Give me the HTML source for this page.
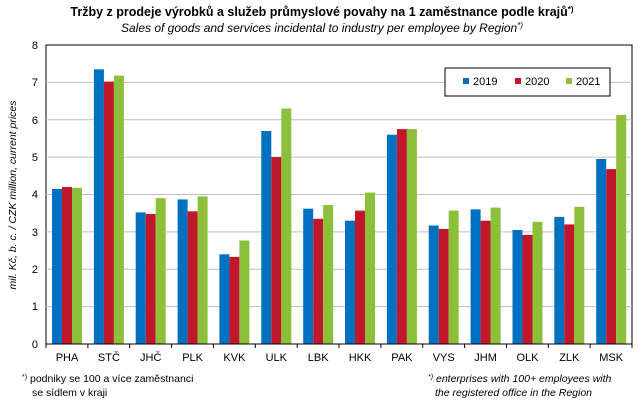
<!DOCTYPE html>
<html><head><meta charset="utf-8"><style>
body{margin:0;background:#fff;}
svg text{font-family:"Liberation Sans",sans-serif;fill:#000;}
</style></head><body>
<svg width="643" height="406" xmlns="http://www.w3.org/2000/svg">
<text x="322" y="16" font-size="12.5" font-weight="bold" text-anchor="middle">Tržby z prodeje výrobků  a služeb průmyslové  povahy na 1 zaměstnance podle krajů<tspan font-size="8" dy="-4">*)</tspan></text>
<text x="322" y="32" font-size="12" font-style="italic" text-anchor="middle">Sales of goods and services incidental to industry per employee  by Region<tspan font-size="8" dy="-4">*)</tspan></text>
<rect x="46" y="45" width="586" height="299" fill="#fff" stroke="#000" stroke-width="1"/>
<g stroke="#bfbfbf" stroke-width="1">
<line x1="46" x2="632" y1="82.4" y2="82.4"/><line x1="46" x2="632" y1="119.8" y2="119.8"/>
<line x1="46" x2="632" y1="157.1" y2="157.1"/><line x1="46" x2="632" y1="194.5" y2="194.5"/>
<line x1="46" x2="632" y1="231.9" y2="231.9"/><line x1="46" x2="632" y1="269.3" y2="269.3"/>
<line x1="46" x2="632" y1="306.6" y2="306.6"/>
</g>
<g font-size="11" text-anchor="end">
<text x="38" y="49">8</text><text x="38" y="86">7</text><text x="38" y="124">6</text><text x="38" y="161">5</text>
<text x="38" y="198">4</text><text x="38" y="236">3</text><text x="38" y="273">2</text><text x="38" y="310">1</text><text x="38" y="348">0</text>
</g>
<text transform="translate(16,195) rotate(-90)" font-size="10.5" font-style="italic" text-anchor="middle">mil. Kč, b. c. / CZK million, current prices</text>
<g>
<g fill="#0070C0">
<rect x="52" y="188.9" width="10" height="155.1"/><rect x="93.9" y="69.3" width="10" height="274.7"/>
<rect x="135.7" y="212.4" width="10" height="131.6"/><rect x="177.6" y="199.4" width="10" height="144.6"/>
<rect x="219.4" y="254.3" width="10" height="89.7"/><rect x="261.3" y="131" width="10" height="213"/>
<rect x="303.2" y="208.7" width="10" height="135.3"/><rect x="345" y="220.7" width="10" height="123.3"/>
<rect x="386.9" y="134.7" width="10" height="209.3"/><rect x="428.7" y="225.5" width="10" height="118.5"/>
<rect x="470.6" y="209.4" width="10" height="134.6"/><rect x="512.5" y="230" width="10" height="114"/>
<rect x="554.3" y="216.9" width="10" height="127.1"/><rect x="596.2" y="159" width="10" height="185"/>
</g>
<g fill="#C0182A">
<rect x="62" y="187" width="10" height="157"/><rect x="103.9" y="81.6" width="10" height="262.4"/>
<rect x="145.7" y="213.9" width="10" height="130.1"/><rect x="187.6" y="211.3" width="10" height="132.7"/>
<rect x="229.4" y="256.9" width="10" height="87.1"/><rect x="271.3" y="157.1" width="10" height="186.9"/>
<rect x="313.2" y="218.8" width="10" height="125.2"/><rect x="355" y="210.6" width="10" height="133.4"/>
<rect x="396.9" y="129.1" width="10" height="214.9"/><rect x="438.7" y="228.9" width="10" height="115.1"/>
<rect x="480.6" y="220.7" width="10" height="123.3"/><rect x="522.5" y="234.9" width="10" height="109.1"/>
<rect x="564.3" y="224.4" width="10" height="119.6"/><rect x="606.2" y="169.1" width="10" height="174.9"/>
</g>
<g fill="#8DC03A">
<rect x="72" y="187.8" width="10" height="156.2"/><rect x="113.9" y="75.6" width="10" height="268.4"/>
<rect x="155.7" y="198.2" width="10" height="145.8"/><rect x="197.6" y="196.4" width="10" height="147.6"/>
<rect x="239.4" y="240.5" width="10" height="103.5"/><rect x="281.3" y="108.5" width="10" height="235.5"/>
<rect x="323.2" y="205" width="10" height="139"/><rect x="365" y="192.6" width="10" height="151.4"/>
<rect x="406.9" y="129.1" width="10" height="214.9"/><rect x="448.7" y="210.6" width="10" height="133.4"/>
<rect x="490.6" y="207.6" width="10" height="136.4"/><rect x="532.5" y="221.8" width="10" height="122.2"/>
<rect x="574.3" y="206.8" width="10" height="137.2"/><rect x="616.2" y="114.9" width="10" height="229.1"/>
</g>
</g>
<line x1="46" x2="632" y1="344" y2="344" stroke="#000"/>
<g stroke="#000">
<line x1="46" x2="46" y1="344" y2="348"/><line x1="87.9" x2="87.9" y1="344" y2="348"/><line x1="129.7" x2="129.7" y1="344" y2="348"/>
<line x1="171.6" x2="171.6" y1="344" y2="348"/><line x1="213.4" x2="213.4" y1="344" y2="348"/><line x1="255.3" x2="255.3" y1="344" y2="348"/>
<line x1="297.2" x2="297.2" y1="344" y2="348"/><line x1="339" x2="339" y1="344" y2="348"/><line x1="380.9" x2="380.9" y1="344" y2="348"/>
<line x1="422.7" x2="422.7" y1="344" y2="348"/><line x1="464.6" x2="464.6" y1="344" y2="348"/><line x1="506.5" x2="506.5" y1="344" y2="348"/>
<line x1="548.3" x2="548.3" y1="344" y2="348"/><line x1="590.2" x2="590.2" y1="344" y2="348"/><line x1="632" x2="632" y1="344" y2="348"/>
</g>
<g font-size="11" text-anchor="middle">
<text x="67" y="361">PHA</text><text x="108.9" y="361">STČ</text><text x="150.7" y="361">JHČ</text><text x="192.6" y="361">PLK</text>
<text x="234.4" y="361">KVK</text><text x="276.3" y="361">ULK</text><text x="318.2" y="361">LBK</text><text x="360" y="361">HKK</text>
<text x="401.9" y="361">PAK</text><text x="443.7" y="361">VYS</text><text x="485.6" y="361">JHM</text><text x="527.5" y="361">OLK</text>
<text x="569.3" y="361">ZLK</text><text x="611.2" y="361">MSK</text>
</g>
<rect x="445" y="68" width="165" height="28" fill="#fff" stroke="#000"/>
<rect x="463" y="78" width="6" height="6" fill="#0070C0"/><text x="473" y="85" font-size="11">2019</text>
<rect x="515" y="78" width="6" height="6" fill="#C0182A"/><text x="525" y="85" font-size="11">2020</text>
<rect x="566" y="78" width="6" height="6" fill="#8DC03A"/><text x="576" y="85" font-size="11">2021</text>
<g font-size="10.5">
<text x="22" y="382"><tspan font-size="7" dy="-3">*)</tspan><tspan dy="3"> podniky se 100 a více zaměstnanci</tspan></text>
<text x="32" y="396">se sídlem  v kraji</text>
<text x="428" y="382" font-style="italic"><tspan font-size="7" dy="-3">*)</tspan><tspan dy="3"> enterprises with 100+ employees with</tspan></text>
<text x="435" y="396" font-style="italic">the registered office in the Region</text>
</g>
</svg>
</body></html>
